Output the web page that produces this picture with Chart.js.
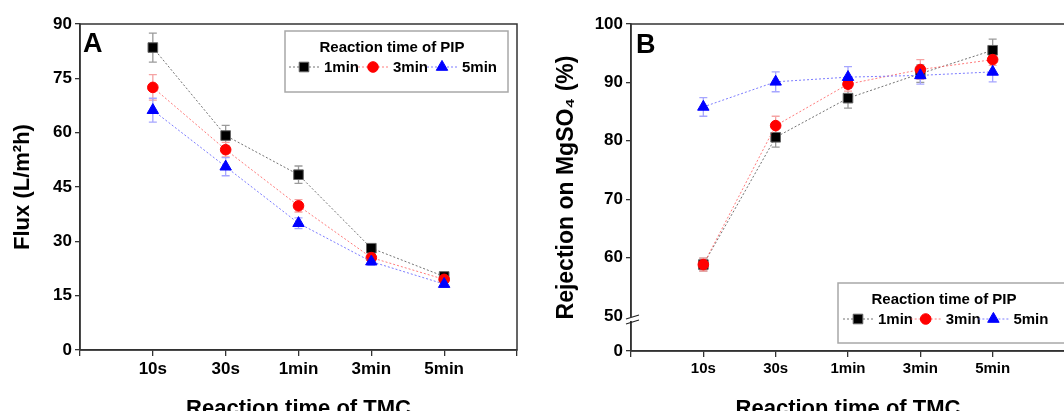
<!DOCTYPE html>
<html>
<head>
<title>Flux and MgSO4 rejection vs reaction time</title>
<script src="https://cdn.jsdelivr.net/npm/chart.js"></script>
<style>
  html, body { margin: 0; padding: 0; background: #fff; overflow: hidden; }
  #wrap { position: relative; width: 1064px; height: 411px; overflow: hidden; }
  canvas { position: absolute; top: 0; }
  #chartA { left: 0; }
  #chartB { left: 530px; }
</style>
</head>
<body>
<div id="wrap">
  <canvas id="chartA" width="530" height="420"></canvas>
  <canvas id="chartB" width="545" height="420"></canvas>
</div>
<script>
// x axis: reaction time of TMC
const categories = ['10s', '30s', '1min', '3min', '5min'];
// series: reaction time of PIP
const pipTimes = ['1min', '3min', '5min'];

// panel A - flux (L/m2h)
const flux1 = [83.5, 59.2, 48.4, 28.1, 20.3];
const flux3 = [72.5, 55.3, 39.8, 25.5, 19.5];
const flux5 = [66.2, 50.6, 35.0, 24.4, 18.2];
const fluxErr1 = [4.0, 2.8, 2.4, 1.0, 0.8];
const fluxErr3 = [3.5, 2.0, 1.7, 1.0, 0.8];
const fluxErr5 = [3.3, 2.5, 1.5, 1.0, 0.8];
const fluxTicks = [0, 15, 30, 45, 60, 75, 90];

// panel B - rejection on MgSO4 (%)
const rej1 = [58.8, 80.6, 87.3, 91.5, 95.5];
const rej3 = [58.8, 82.6, 89.7, 92.2, 93.9];
const rej5 = [85.8, 90.1, 90.9, 91.2, 91.8];
const rejErr1 = [1.1, 1.7, 1.7, 1.5, 1.9];
const rejErr3 = [1.1, 1.6, 1.2, 1.7, 1.0];
const rejErr5 = [1.6, 1.7, 1.8, 1.5, 1.7];
const rejTicks = [0, 50, 60, 70, 80, 90, 100];

const FONT = '"Liberation Sans", Arial, sans-serif';
Chart.defaults.font.family = FONT;
Chart.defaults.color = '#000';

// marker / line look of each PIP series
const looks = [
  { pointStyle: 'rect', radius: 6.8, fill: '#000', border: '#666', line: 'rgba(90,90,90,0.85)', err: '#9a9a9a' },
  { pointStyle: 'circle', radius: 5.3, fill: '#ff0000', border: '#ff0000', line: 'rgba(255,110,110,0.9)', err: '#f5a3a3' },
  { pointStyle: 'triangle', radius: 6.6, fill: '#0000ff', border: '#0000ff', line: 'rgba(110,110,255,0.9)', err: '#a6a6ff' }
];

function makeDatasets(series, errors) {
  return series.map((vals, i) => ({
    label: pipTimes[i],
    data: vals.map((v, k) => ({ x: k + 1, y: v })),
    errors: errors[i],
    errColor: looks[i].err,
    borderColor: looks[i].line,
    borderWidth: 1,
    borderDash: [2, 2],
    pointStyle: looks[i].pointStyle,
    pointRadius: looks[i].radius,
    pointHoverRadius: looks[i].radius,
    pointBackgroundColor: looks[i].fill,
    pointBorderColor: looks[i].border,
    pointBorderWidth: 1,
    showLine: true,
    tension: 0,
    order: 3 - i
  }));
}

// error bars with caps
const errorBars = {
  id: 'errorBars',
  beforeDatasetsDraw(chart) {
    const ctx = chart.ctx;
    const ys = chart.scales.y;
    ctx.save();
    chart.data.datasets.forEach((ds, di) => {
      const meta = chart.getDatasetMeta(di);
      ctx.strokeStyle = ds.errColor;
      ctx.lineWidth = 1.3;
      meta.data.forEach((pt, k) => {
        const v = ds.data[k].y, e = ds.errors[k];
        const t = ys.getPixelForValue(v + e), b = ys.getPixelForValue(v - e);
        ctx.beginPath();
        ctx.moveTo(pt.x, t); ctx.lineTo(pt.x, b);
        ctx.moveTo(pt.x - 4, t); ctx.lineTo(pt.x + 4, t);
        ctx.moveTo(pt.x - 4, b); ctx.lineTo(pt.x + 4, b);
        ctx.stroke();
      });
    });
    ctx.restore();
  }
};

// closed frame round the plot area
const frame = {
  id: 'frame',
  beforeDatasetsDraw(chart) {
    const { ctx, chartArea: a } = chart;
    ctx.save();
    ctx.strokeStyle = '#333';
    ctx.lineWidth = 1.5;
    ctx.strokeRect(a.left, a.top, a.right - a.left, a.bottom - a.top);
    ctx.restore();
  }
};

// boxed legend with title
const pipLegend = {
  id: 'pipLegend',
  afterDraw(chart, args, o) {
    const ctx = chart.ctx;
    ctx.save();
    ctx.fillStyle = '#fff';
    ctx.fillRect(o.left, o.top, o.width, o.height);
    ctx.strokeStyle = '#a8a8a8';
    ctx.lineWidth = 1.5;
    ctx.strokeRect(o.left, o.top, o.width, o.height);
    ctx.fillStyle = '#000';
    ctx.font = 'bold 15px ' + FONT;
    ctx.textAlign = 'center';
    ctx.textBaseline = 'middle';
    ctx.fillText('Reaction time of PIP', o.titleX, o.titleY);
    chart.data.datasets.forEach((ds, i) => {
      const mx = o.firstX + i * o.step;
      ctx.strokeStyle = ds.borderColor;
      ctx.lineWidth = 1;
      ctx.setLineDash([2, 2]);
      ctx.beginPath();
      ctx.moveTo(mx - 15, o.itemY); ctx.lineTo(mx + 16, o.itemY);
      ctx.stroke();
      ctx.setLineDash([]);
      ctx.fillStyle = ds.pointBackgroundColor;
      ctx.strokeStyle = ds.pointBorderColor;
      ctx.lineWidth = 1;
      Chart.helpers.drawPoint(ctx, { pointStyle: ds.pointStyle, radius: ds.pointRadius, rotation: 0, borderWidth: 1 }, mx, o.itemY);
      ctx.fillStyle = '#000';
      ctx.textAlign = 'left';
      ctx.fillText(ds.label, mx + 20, o.itemY + 1);
    });
    ctx.restore();
  }
};

// big panel letter
const panelLetter = {
  id: 'panelLetter',
  afterDraw(chart, args, o) {
    const ctx = chart.ctx;
    ctx.save();
    ctx.fillStyle = '#000';
    ctx.font = 'bold 27px ' + FONT;
    ctx.textBaseline = 'alphabetic';
    ctx.fillText(o.text, o.x, o.y);
    ctx.restore();
  }
};

// break marks on the y axis of panel B
const axisBreak = {
  id: 'axisBreak',
  afterDraw(chart, args, o) {
    if (!o.enabled) return;
    const ctx = chart.ctx;
    const ax = chart.chartArea.left;
    const yb = chart.scales.y.getPixelForValue(o.value);
    ctx.save();
    ctx.fillStyle = '#fff';
    ctx.fillRect(ax - 2, yb + 1, 4, 4);
    ctx.strokeStyle = '#222';
    ctx.lineWidth = 1.2;
    ctx.beginPath();
    ctx.moveTo(ax - 5, yb + 3); ctx.lineTo(ax + 8, yb - 1);
    ctx.moveTo(ax - 5, yb + 8); ctx.lineTo(ax + 8, yb + 4);
    ctx.stroke();
    ctx.restore();
  }
};

function xAxis(labelSize, height) {
  return {
    type: 'linear', min: 0, max: 6,
    afterBuildTicks: s => { s.ticks = [0, 1, 2, 3, 4, 5, 6].map(v => ({ value: v })); },
    afterFit: s => { s.height = height; },
    ticks: {
      autoSkip: false, maxRotation: 0, padding: 3,
      font: { size: labelSize, weight: 'bold' }, color: '#000',
      callback: v => categories[v - 1] || ''
    },
    grid: { drawOnChartArea: false, tickLength: 6, color: '#333', lineWidth: 1.3 },
    border: { color: '#333', width: 1.5 },
    title: { display: true, text: 'Reaction time of TMC', font: { size: 22, weight: 'bold' }, color: '#000', padding: { bottom: -2 } }
  };
}

// panel A
new Chart(document.getElementById('chartA'), {
  type: 'scatter',
  data: { datasets: makeDatasets([flux1, flux3, flux5], [fluxErr1, fluxErr3, fluxErr5]) },
  plugins: [frame, errorBars, pipLegend, panelLetter, axisBreak],
  options: {
    responsive: false, animation: false,
    layout: { padding: { top: 24, right: 13, left: 0, bottom: 0 } },
    plugins: {
      legend: { display: false }, tooltip: { enabled: false },
      pipLegend: { left: 285, top: 31, width: 223, height: 61, titleX: 392, titleY: 48, itemY: 67, firstX: 304, step: 69 },
      panelLetter: { text: 'A', x: 83, y: 52 },
      axisBreak: { enabled: false }
    },
    scales: {
      x: xAxis(17, 70),
      y: {
        min: 0, max: 90,
        afterBuildTicks: s => { s.ticks = fluxTicks.map(v => ({ value: v })); },
        afterFit: s => { s.width = 80; },
        ticks: { font: { size: 17, weight: 'bold' }, color: '#000', padding: 3 },
        grid: { drawOnChartArea: false, tickLength: 5, color: '#333', lineWidth: 1.3 },
        border: { color: '#333', width: 1.5 },
        title: { display: true, text: 'Flux (L/m²h)', font: { size: 22, weight: 'bold' }, color: '#000', padding: { top: 10 } }
      }
    }
  }
});

// panel B - y axis broken between 0 and 50; the "0" tick sits at 44
const rejZeroPos = 44;
new Chart(document.getElementById('chartB'), {
  type: 'scatter',
  data: { datasets: makeDatasets([rej1, rej3, rej5], [rejErr1, rejErr3, rejErr5]) },
  plugins: [frame, errorBars, pipLegend, panelLetter, axisBreak],
  options: {
    responsive: false, animation: false,
    layout: { padding: { top: 24, right: 10, left: 0, bottom: 0 } },
    plugins: {
      legend: { display: false }, tooltip: { enabled: false },
      pipLegend: { left: 308, top: 283, width: 260, height: 60, titleX: 414, titleY: 300, itemY: 319, firstX: 328, step: 67.7 },
      panelLetter: { text: 'B', x: 106, y: 53 },
      axisBreak: { enabled: true, value: 50 }
    },
    scales: {
      x: xAxis(15, 69),
      y: {
        min: rejZeroPos, max: 100,
        afterBuildTicks: s => { s.ticks = rejTicks.map(v => ({ value: v === 0 ? rejZeroPos : v })); },
        afterFit: s => { s.width = 101; },
        ticks: {
          font: { size: 17, weight: 'bold' }, color: '#000', padding: 3,
          callback: v => (v === rejZeroPos ? '0' : String(v))
        },
        grid: {
          drawOnChartArea: false, tickLength: 5, lineWidth: 1.3,
          color: c => (c.tick && c.tick.value === 50 ? 'rgba(0,0,0,0)' : '#333')
        },
        border: { color: '#333', width: 1.5 },
        title: { display: true, text: 'Rejection on MgSO₄ (%)', font: { size: 23, weight: 'bold' }, color: '#000', padding: { top: 23 } }
      }
    }
  }
});
</script>
</body>
</html>
